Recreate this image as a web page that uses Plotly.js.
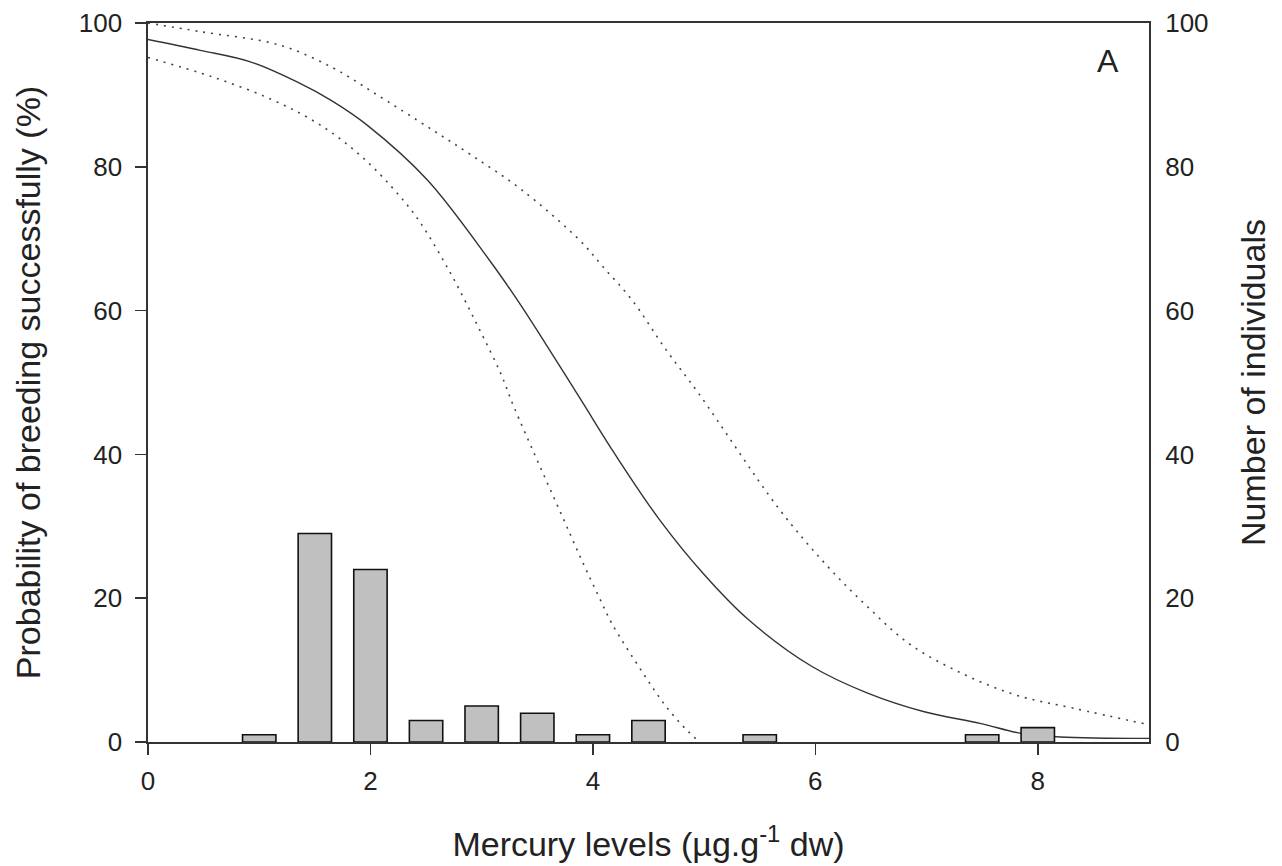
<!DOCTYPE html>
<html>
<head>
<meta charset="utf-8">
<script src="https://cdn.plot.ly/plotly-3.0.1.min.js"></script>
<style>
  html, body { margin: 0; padding: 0; background: #fff; }
  #chart { width: 1282px; height: 866px; }
</style>
</head>
<body>
<div id="chart"></div>
<script>
// Fitted probability of breeding successfully (%) versus mercury level
const fitX = [0, 0.47, 0.92, 1.34, 1.65, 1.97, 2.51, 3.08, 3.32, 3.53, 3.9, 4.2, 4.6, 5.0, 5.4, 5.97, 6.47, 6.98, 7.48, 7.85, 8.2, 9.0];
const fitY = [97.7, 96.2, 94.6, 91.8, 89.2, 85.8, 78.2, 66.8, 61.5, 56.5, 47.4, 40.0, 30.9, 23.3, 17.0, 10.5, 6.8, 4.2, 2.6, 1.2, 0.7, 0.5];

// Upper confidence limit
const upperX = [0, 0.47, 1.19, 1.67, 2.02, 2.56, 2.91, 3.36, 3.88, 4.09, 4.35, 4.66, 4.95, 5.67, 6.1, 6.47, 6.84, 7.31, 7.81, 8.32, 9.0];
const upperY = [100, 98.8, 96.9, 93.7, 90.4, 85.1, 81.6, 76.8, 69.8, 66.1, 61.5, 54.5, 48.5, 32.5, 24.6, 18.8, 13.7, 9.6, 6.5, 4.7, 2.4];

// Lower confidence limit
const lowerX = [0, 0.58, 1.12, 1.55, 1.93, 2.27, 2.45, 2.72, 2.96, 3.17, 3.29, 3.75, 3.92, 4.06, 4.17, 4.45, 4.66, 4.86, 4.96];
const lowerY = [95.2, 92.5, 89.3, 85.8, 81.3, 75.8, 72.2, 65.2, 58.0, 51.3, 46.6, 30.5, 24.6, 20.0, 16.5, 9.6, 4.9, 1.4, 0];

// Number of individuals per mercury class
const classMid = [1.0, 1.5, 2.0, 2.5, 3.0, 3.5, 4.0, 4.5, 5.5, 7.5, 8.0];
const classCount = [1, 29, 24, 3, 5, 4, 1, 3, 1, 1, 2];

const tickVals = [0, 2, 4, 6, 8];
const yTickVals = [0, 20, 40, 60, 80, 100];

const FONT = 'Liberation Sans, Arial, sans-serif';
const INK = '#222';
const TICK_SIZE = 26;
const TITLE_SIZE = 34;

const traces = [
  {
    type: 'bar', x: classMid, y: classCount, yaxis: 'y2',
    width: 0.3,
    marker: { color: '#c0c0c0', line: { color: '#111', width: 1.6 } },
    hoverinfo: 'x+y'
  },
  {
    type: 'scatter', mode: 'lines', x: upperX, y: upperY,
    line: { color: '#444', width: 1.6, dash: '2px,6px', shape: 'spline', smoothing: 1.0 }
  },
  {
    type: 'scatter', mode: 'lines', x: lowerX, y: lowerY,
    line: { color: '#444', width: 1.6, dash: '2px,6px', shape: 'spline', smoothing: 1.0 }
  },
  {
    type: 'scatter', mode: 'lines', x: fitX, y: fitY,
    line: { color: '#333', width: 1.4, shape: 'spline', smoothing: 1.0 }
  }
];

const layout = {
  width: 1282, height: 866,
  margin: { l: 148, r: 133, t: 23, b: 124 },
  paper_bgcolor: '#fff', plot_bgcolor: '#fff',
  showlegend: false,
  font: { family: FONT, size: TICK_SIZE, color: INK },
  bargap: 0,
  xaxis: {
    range: [0, 9], tickvals: tickVals, ticktext: tickVals.map(String),
    showgrid: false, zeroline: false,
    showline: true, linecolor: '#333', linewidth: 1.6, mirror: true,
    ticks: 'outside', ticklen: 11, tickwidth: 1.6, tickcolor: '#333',
    ticklabelstandoff: 4,
    tickfont: { family: FONT, size: TICK_SIZE, color: INK },
    title: { text: 'Mercury levels (µg.g<sup>-1</sup> dw)', font: { family: FONT, size: TITLE_SIZE, color: INK }, standoff: 37 }
  },
  yaxis: {
    range: [0, 100], tickvals: yTickVals,
    showgrid: false, zeroline: false,
    showline: true, linecolor: '#333', linewidth: 1.6, mirror: true,
    ticks: 'outside', ticklen: 11, tickwidth: 1.6, tickcolor: '#333',
    ticklabelstandoff: 8,
    tickfont: { family: FONT, size: TICK_SIZE, color: INK },
    title: { text: 'Probability of breeding successfully (%)', font: { family: FONT, size: TITLE_SIZE, color: INK }, standoff: 28 }
  },
  yaxis2: {
    range: [0, 100], tickvals: yTickVals, overlaying: 'y', side: 'right',
    showgrid: false, zeroline: false, showline: false,
    ticks: 'outside', ticklen: 10, tickcolor: 'rgba(0,0,0,0)',
    tickfont: { family: FONT, size: TICK_SIZE, color: INK },
    title: { text: 'Number of individuals', font: { family: FONT, size: TITLE_SIZE, color: INK }, standoff: 33 }
  },
  annotations: [
    {
      text: 'A', xref: 'paper', yref: 'paper', x: 0.959, y: 0.947,
      xanchor: 'center', yanchor: 'middle', showarrow: false,
      font: { family: FONT, size: 32, color: INK }
    }
  ]
};

Plotly.newPlot('chart', traces, layout, { displayModeBar: false, staticPlot: true });
</script>
</body>
</html>
